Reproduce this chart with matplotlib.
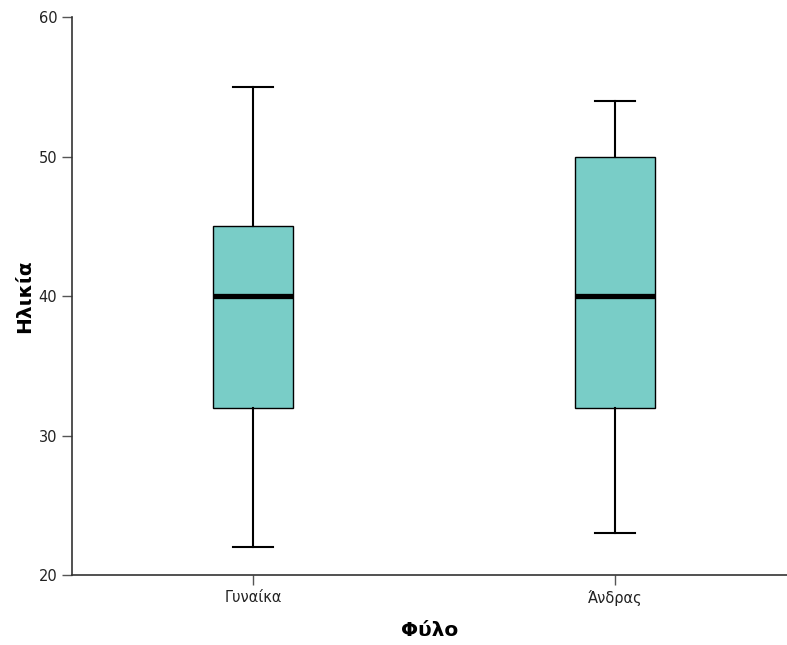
import matplotlib
matplotlib.use("Agg")
import matplotlib.pyplot as plt

# data
groups = ["Γυναίκα", "Άνδρας"]
whislo = [22, 23]
q1 = [32, 32]
med = [40, 40]
q3 = [45, 50]
whishi = [55, 54]
yticks = [20, 30, 40, 50, 60]

plt.rcParams['font.family'] = ['DejaVu Sans']

fig = plt.figure(figsize=(7.87, 6.45), dpi=100)
ax = fig.add_axes([0.0915, 0.1085, 0.9085, 0.865])

stats = []
for i, g in enumerate(groups):
    stats.append(dict(label=g, whislo=whislo[i], q1=q1[i], med=med[i],
                      q3=q3[i], whishi=whishi[i], fliers=[]))

ax.bxp(stats, positions=[1, 2], widths=0.221, capwidths=0.113,
       patch_artist=True, showfliers=False,
       boxprops=dict(facecolor="#79cdc7", edgecolor="black", linewidth=1.0),
       medianprops=dict(color="black", linewidth=3.8, solid_capstyle="butt"),
       whiskerprops=dict(color="black", linewidth=1.5),
       capprops=dict(color="black", linewidth=1.5))

ax.set_xlim(0.5, 2.475)
ax.set_ylim(20, 60)
ax.set_yticks(yticks)
ax.set_xticks([1, 2])
ax.set_xticklabels(groups)

for s in ["top", "right"]:
    ax.spines[s].set_visible(False)
for s in ["left", "bottom"]:
    ax.spines[s].set_color("#333333")
    ax.spines[s].set_linewidth(1.2)
ax.tick_params(axis="both", direction="out", length=7, width=1,
               color="#555555", labelsize=10.5, labelcolor="#222222")

ax.set_ylabel("Ηλικία", fontsize=14.5, fontweight="bold", labelpad=3)
ax.set_xlabel("Φύλο", fontsize=14.5, fontweight="bold", labelpad=11)

fig.savefig("out.png", dpi=100)
